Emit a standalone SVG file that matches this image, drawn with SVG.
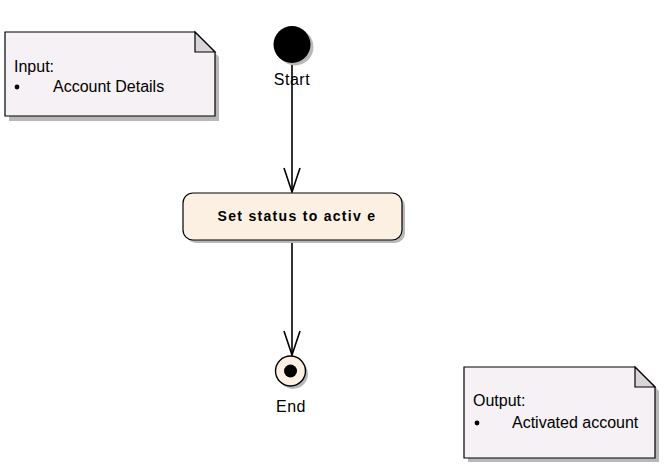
<svg xmlns="http://www.w3.org/2000/svg" width="670" height="473" viewBox="0 0 670 473">
<defs>
<style>
text{font-family:"Liberation Sans",Arial,sans-serif;fill:#000}
.note{fill:#F5F1F5;stroke:#000;stroke-width:1.2}
.fold{fill:#D9D5D9;stroke:#000;stroke-width:1.2;stroke-linejoin:miter}
.shadow{fill:#B8B8B8}
.t{font-size:16px}
.lbl{font-size:16px;text-anchor:middle;letter-spacing:0.5px}
.edge{stroke:#000;stroke-width:1.6;fill:none}
.head{stroke:#000;stroke-width:1.6;fill:none}
.act{fill:#FBF0E2;stroke:#000;stroke-width:1.2}
</style>
</defs>
<rect width="670" height="473" fill="#fff"/>
<g id="connectors">
<line class="edge" x1="292" y1="63" x2="292" y2="192"/>
<path class="head" d="M284,168 L292,192 L300,168"/>
<line class="edge" x1="292" y1="241" x2="292" y2="355"/>
<path class="head" d="M284,331 L292,355 L300,331"/>
</g>
<g id="note-input">
<path class="shadow" d="M9,36 H198 L219,57 V121 H9 Z"/>
<path class="note" d="M5,32 H195 L215,52 V116 H5 Z"/>
<path class="fold" d="M195,32 V52 H215 Z"/>
<text class="t" x="14" y="72">Input:</text>
<circle cx="17" cy="87" r="2.4" fill="#000"/>
<text class="t" x="53" y="92">Account Details</text>
</g>
<g id="start">
<circle cx="295" cy="47" r="18.5" fill="#B8B8B8"/>
<circle cx="292" cy="44.5" r="18.5" fill="#000"/>
<text class="lbl" x="292" y="85">Start</text>
</g>
<g id="activity">
<rect x="186" y="196" width="219" height="47" rx="10" fill="#B8B8B8"/>
<rect class="act" x="183" y="193" width="219" height="47" rx="10"/>
<text x="297" y="221" font-size="14" font-weight="bold" text-anchor="middle" letter-spacing="1.3">Set status to activ e</text>
</g>
<g id="end">
<circle cx="293" cy="374" r="15" fill="#B8B8B8"/>
<circle cx="290.5" cy="371" r="15" fill="#FBF0E2" stroke="#000" stroke-width="1.4"/>
<circle cx="290.5" cy="371" r="6.5" fill="#000"/>
<text class="lbl" x="291" y="412">End</text>
</g>
<g id="note-output">
<path class="shadow" d="M468,371 H639 L659,391 V462 H468 Z"/>
<path class="note" d="M464,367 H635 L655,387 V458 H464 Z"/>
<path class="fold" d="M635,367 V387 H655 Z"/>
<text class="t" x="473" y="406">Output:</text>
<circle cx="477" cy="423" r="2.4" fill="#000"/>
<text class="t" x="512" y="428">Activated account</text>
</g>
</svg>
